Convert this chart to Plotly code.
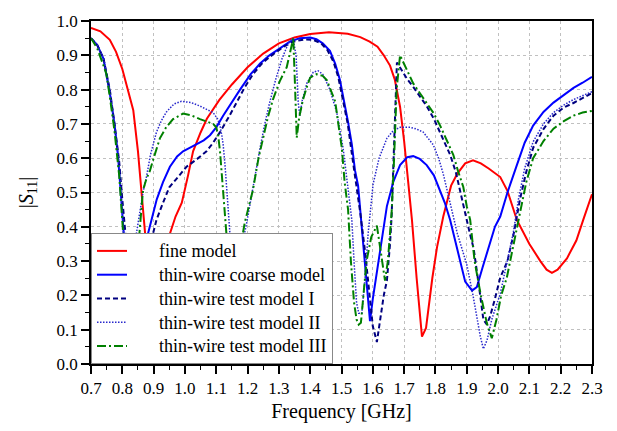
import plotly.graph_objects as go

# ---------------- data ----------------
fine_f = [0.70, 0.73, 0.76, 0.78, 0.80, 0.82, 0.835, 0.85, 0.865, 0.875, 0.89, 0.905, 0.92, 0.935,
          0.952, 0.97, 0.99, 1.01, 1.026, 1.05, 1.07, 1.11, 1.15, 1.20, 1.25, 1.30, 1.35, 1.40,
          1.46, 1.52, 1.56, 1.59, 1.615, 1.635, 1.655, 1.67, 1.687, 1.70, 1.71, 1.725, 1.74,
          1.757, 1.77, 1.79, 1.805, 1.825, 1.85, 1.87, 1.895, 1.92, 1.945, 1.97, 2.007, 2.03,
          2.06, 2.10, 2.135, 2.155, 2.172, 2.19, 2.22, 2.25, 2.272, 2.30]
fine_s = [0.98, 0.97, 0.945, 0.91, 0.86, 0.79, 0.74, 0.62, 0.46, 0.36, 0.20, 0.12, 0.15, 0.26,
          0.38, 0.43, 0.47, 0.55, 0.62, 0.675, 0.715, 0.77, 0.815, 0.865, 0.905, 0.935, 0.952, 0.962,
          0.967, 0.963, 0.953, 0.94, 0.925, 0.90, 0.87, 0.83, 0.75, 0.65, 0.56, 0.42, 0.25,
          0.08, 0.105, 0.25, 0.34, 0.43, 0.52, 0.555, 0.585, 0.594, 0.585, 0.57, 0.545, 0.505,
          0.42, 0.35, 0.30, 0.275, 0.266, 0.275, 0.308, 0.36, 0.42, 0.495]

coarse_f = [0.70, 0.72, 0.74, 0.76, 0.775, 0.786, 0.795, 0.802, 0.815, 0.83, 0.845, 0.86, 0.872,
            0.882, 0.895, 0.91, 0.93, 0.952, 0.975, 0.994, 1.015, 1.037, 1.06, 1.08, 1.10, 1.122,
            1.15, 1.176, 1.21, 1.24, 1.27, 1.303, 1.335, 1.367, 1.40, 1.42, 1.44, 1.463, 1.48,
            1.495, 1.51, 1.521, 1.533, 1.543, 1.553, 1.56, 1.575, 1.585, 1.591, 1.60, 1.615,
            1.629, 1.645, 1.665, 1.687, 1.71, 1.729, 1.75, 1.772, 1.795, 1.815, 1.83, 1.847,
            1.87, 1.895, 1.917, 1.932, 1.95, 1.97, 1.99, 2.007, 2.03, 2.06, 2.085, 2.112, 2.145,
            2.177, 2.21, 2.241, 2.27, 2.30]
coarse_s = [0.95, 0.93, 0.89, 0.79, 0.70, 0.61, 0.50, 0.41, 0.25, 0.10, 0.05, 0.15, 0.30,
            0.38, 0.43, 0.48, 0.53, 0.575, 0.605, 0.62, 0.63, 0.64, 0.652, 0.667, 0.69, 0.724,
            0.765, 0.80, 0.845, 0.876, 0.90, 0.92, 0.94, 0.95, 0.952, 0.947, 0.935, 0.913, 0.875,
            0.828, 0.76, 0.705, 0.64, 0.565, 0.52, 0.45, 0.30, 0.18, 0.125, 0.19, 0.28,
            0.356, 0.46, 0.53, 0.58, 0.603, 0.606, 0.598, 0.58, 0.55, 0.507, 0.47, 0.42,
            0.33, 0.24, 0.214, 0.224, 0.28, 0.34, 0.40, 0.43, 0.50, 0.58, 0.645, 0.695, 0.735,
            0.762, 0.785, 0.805, 0.82, 0.837]

test1_f = [0.70, 0.72, 0.74, 0.76, 0.775, 0.79, 0.80, 0.81, 0.825, 0.84, 0.855, 0.87, 0.885,
           0.898, 0.909, 0.93, 0.95, 0.973, 1.005, 1.035, 1.069, 1.09, 1.112, 1.14, 1.165, 1.19,
           1.218, 1.25, 1.282, 1.315, 1.346, 1.38, 1.41, 1.435, 1.455, 1.475, 1.49, 1.505, 1.52,
           1.535, 1.548, 1.56, 1.575, 1.59, 1.60, 1.613, 1.625, 1.635, 1.645, 1.655, 1.66, 1.667,
           1.672, 1.677, 1.69, 1.71, 1.729, 1.75, 1.772, 1.795, 1.815, 1.83, 1.847, 1.865, 1.879,
           1.90, 1.91, 1.922, 1.94, 1.953, 1.964, 1.975, 1.99, 2.007, 2.03, 2.05, 2.07, 2.09,
           2.112, 2.145, 2.177, 2.21, 2.241, 2.27, 2.30]
test1_s = [0.95, 0.93, 0.89, 0.80, 0.70, 0.59, 0.48, 0.38, 0.20, 0.08, 0.06, 0.18, 0.30,
           0.38, 0.42, 0.47, 0.515, 0.54, 0.575, 0.595, 0.62, 0.645, 0.676, 0.72, 0.761, 0.805,
           0.846, 0.88, 0.903, 0.925, 0.94, 0.946, 0.945, 0.935, 0.915, 0.88, 0.835, 0.77, 0.70,
           0.60, 0.52, 0.44, 0.33, 0.20, 0.11, 0.064, 0.14, 0.20, 0.243, 0.35, 0.43, 0.60,
           0.78, 0.879, 0.86, 0.83, 0.808, 0.78, 0.752, 0.715, 0.676, 0.645, 0.61, 0.56, 0.507,
           0.42, 0.38, 0.337, 0.22, 0.13, 0.115, 0.14, 0.19, 0.252, 0.30, 0.38, 0.48, 0.56,
           0.63, 0.685, 0.724, 0.748, 0.761, 0.775, 0.79]

test2_f = [0.70, 0.72, 0.74, 0.76, 0.775, 0.79, 0.80, 0.81, 0.82, 0.83, 0.838, 0.845, 0.855,
           0.866, 0.877, 0.89, 0.909, 0.925, 0.941, 0.965, 0.989, 1.02, 1.048, 1.07, 1.09, 1.104,
           1.112, 1.118, 1.122, 1.128, 1.133, 1.138, 1.143, 1.15, 1.16, 1.17, 1.18, 1.19, 1.197,
           1.21, 1.225, 1.24, 1.255, 1.27, 1.29, 1.31, 1.33, 1.345, 1.355, 1.362, 1.367, 1.375,
           1.39, 1.41, 1.425, 1.44, 1.463, 1.485, 1.505, 1.521, 1.533, 1.54, 1.548, 1.555, 1.565,
           1.575, 1.585, 1.601, 1.62, 1.645, 1.665, 1.687, 1.719, 1.74, 1.761, 1.793, 1.81, 1.825,
           1.847, 1.87, 1.90, 1.92, 1.943, 1.953, 1.965, 1.98, 2.007, 2.03, 2.049, 2.065, 2.085,
           2.112, 2.145, 2.177, 2.21, 2.241, 2.27, 2.30]
test2_s = [0.95, 0.93, 0.89, 0.80, 0.70, 0.58, 0.45, 0.30, 0.15, 0.10, 0.20, 0.38, 0.44,
           0.50, 0.545, 0.61, 0.676, 0.71, 0.735, 0.758, 0.766, 0.762, 0.752, 0.743, 0.733, 0.715,
           0.695, 0.665, 0.64, 0.58, 0.516, 0.46, 0.41, 0.30, 0.10, 0.05, 0.15, 0.38, 0.41,
           0.48, 0.55, 0.63, 0.70, 0.76, 0.83, 0.89, 0.935, 0.95, 0.90, 0.76, 0.724, 0.77,
           0.82, 0.851, 0.855, 0.845, 0.80, 0.733, 0.63, 0.516, 0.42, 0.30, 0.18, 0.148, 0.148,
           0.25, 0.38, 0.525, 0.60, 0.658, 0.68, 0.69, 0.69, 0.685, 0.676, 0.639, 0.60, 0.554,
           0.469, 0.38, 0.29, 0.20, 0.082, 0.044, 0.07, 0.13, 0.205, 0.30, 0.384, 0.48, 0.57,
           0.648, 0.70, 0.733, 0.755, 0.771, 0.782, 0.794]

test3_f = [0.70, 0.72, 0.74, 0.749, 0.76, 0.775, 0.79, 0.80, 0.81, 0.82, 0.83, 0.84, 0.85,
           0.856, 0.866, 0.877, 0.888, 0.90, 0.92, 0.94, 0.962, 0.994, 1.02, 1.048, 1.07, 1.09,
           1.10, 1.106, 1.112, 1.117, 1.122, 1.128, 1.135, 1.145, 1.155, 1.165, 1.175, 1.185,
           1.191, 1.205, 1.217, 1.235, 1.249, 1.265, 1.281, 1.303, 1.325, 1.341, 1.346, 1.352,
           1.357, 1.365, 1.377, 1.39, 1.40, 1.42, 1.44, 1.453, 1.465, 1.48, 1.489, 1.501, 1.51,
           1.521, 1.53, 1.54, 1.548, 1.555, 1.562, 1.57, 1.58, 1.595, 1.613, 1.625, 1.639, 1.648,
           1.655, 1.66, 1.668, 1.676, 1.687, 1.70, 1.729, 1.75, 1.772, 1.795, 1.815, 1.835, 1.857,
           1.873, 1.889, 1.90, 1.911, 1.925, 1.945, 1.964, 1.98, 1.995, 2.01, 2.028, 2.045, 2.06,
           2.071, 2.09, 2.112, 2.145, 2.177, 2.21, 2.241, 2.27, 2.30]
test3_s = [0.95, 0.92, 0.87, 0.846, 0.78, 0.68, 0.55, 0.42, 0.28, 0.15, 0.12, 0.20, 0.33,
           0.40, 0.506, 0.54, 0.563, 0.60, 0.658, 0.69, 0.714, 0.73, 0.725, 0.714, 0.706, 0.70,
           0.69, 0.667, 0.62, 0.563, 0.50, 0.45, 0.35, 0.20, 0.10, 0.12, 0.25, 0.38,
           0.412, 0.46, 0.507, 0.60, 0.658, 0.72, 0.771, 0.825, 0.865, 0.93, 0.95, 0.80,
           0.66, 0.72, 0.771, 0.81, 0.835, 0.845, 0.84, 0.828, 0.80, 0.765, 0.705, 0.63, 0.53,
           0.45, 0.30, 0.18, 0.13, 0.115, 0.12, 0.20, 0.30, 0.37, 0.403, 0.33, 0.243, 0.30,
           0.40, 0.44, 0.60, 0.80, 0.90, 0.875, 0.818, 0.79, 0.761, 0.73, 0.695, 0.655, 0.61,
           0.56, 0.516, 0.46, 0.42, 0.30, 0.20, 0.12, 0.075, 0.13, 0.20, 0.252, 0.33, 0.403,
           0.45, 0.53, 0.60, 0.65, 0.686, 0.708, 0.724, 0.733, 0.738]

x_ticks = [0.7, 0.8, 0.9, 1.0, 1.1, 1.2, 1.3, 1.4, 1.5, 1.6, 1.7, 1.8, 1.9, 2.0, 2.1, 2.2, 2.3]
y_ticks = [0.0, 0.1, 0.2, 0.3, 0.4, 0.5, 0.6, 0.7, 0.8, 0.9, 1.0]

names = ["fine model", "thin-wire coarse model", "thin-wire test model I",
         "thin-wire test model II", "thin-wire test model III"]

# ---------------- figure ----------------
FONT = "Liberation Serif, Times New Roman, serif"
fig = go.Figure()
series = [
    (fine_f, fine_s, dict(color="#ff0000", width=2, dash="solid")),
    (coarse_f, coarse_s, dict(color="#0000ff", width=2, dash="solid")),
    (test1_f, test1_s, dict(color="#000080", width=2, dash="5px,3px")),
    (test2_f, test2_s, dict(color="#2828cc", width=1.5, dash="1.5px,1.5px")),
    (test3_f, test3_s, dict(color="#008000", width=2, dash="9px,3px,2px,3px")),
]
pad = "\u00a0" * 6
for (fx, sy, ln), nm in zip(series, names):
    fig.add_trace(go.Scatter(
        x=fx, y=sy, mode="lines", line=ln,
        name=f'<span style="font-size:18px">{pad}{nm}</span>'))

axis_common = dict(
    showline=True, linecolor="black", linewidth=1.5, mirror=True,
    ticks="outside", ticklen=8, tickwidth=1.5, tickcolor="black",
    showgrid=True, gridcolor="#c0c0c0", gridwidth=1, griddash="3px,3px",
    zeroline=False, tickfont=dict(family=FONT, size=17, color="black"),
    minor=dict(ticks="outside", ticklen=4, tickwidth=1.2, tickcolor="black", showgrid=False),
)
fig.update_xaxes(range=[0.7, 2.3], tickvals=x_ticks, ticktext=[f"{v:.1f}" for v in x_ticks],
                 minor_dtick=0.05, minor_tick0=0.7,
                 title=dict(text="Frequency [GHz]", font=dict(family=FONT, size=20, color="black"),
                            standoff=7),
                 **axis_common)
fig.update_yaxes(range=[0, 1.0], tickvals=y_ticks, ticktext=[f"{v:.1f}" for v in y_ticks],
                 minor_dtick=0.05, minor_tick0=0,
                 title=dict(text="|<i>S</i><sub>11</sub>|", font=dict(family=FONT, size=20, color="black"),
                            standoff=18),
                 **axis_common)

fig.update_layout(
    width=617, height=431,
    margin=dict(l=91, r=25, t=12, b=65),
    paper_bgcolor="white", plot_bgcolor="white",
    font=dict(family=FONT, color="black"),
    legend=dict(x=0, y=0, xanchor="left", yanchor="bottom",
                bgcolor="white", bordercolor="#888888", borderwidth=1,
                font=dict(family=FONT, size=16, color="black"),
                tracegroupgap=0),
    showlegend=True,
)

fig.write_html("out.html")
